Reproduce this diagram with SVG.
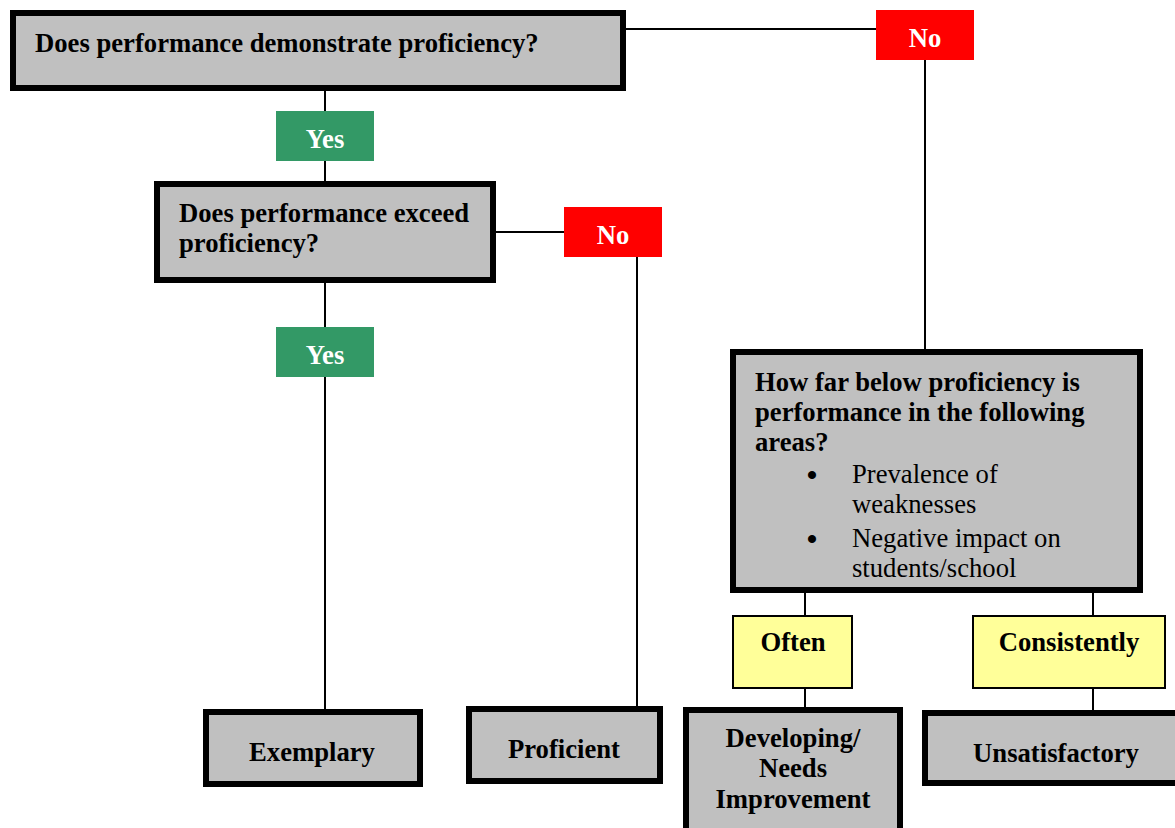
<svg xmlns="http://www.w3.org/2000/svg" width="1175" height="828" viewBox="0 0 1175 828">
<style>
.q{fill:#C0C0C0;stroke:#000;stroke-width:6}
.yes{fill:#339966}
.no{fill:#FF0000}
.y{fill:#FFFF99;stroke:#000;stroke-width:2}
text{font-family:"Liberation Serif","Times New Roman",serif;font-size:26.67px;fill:#000}
.b{font-weight:bold}
.w{fill:#fff;font-weight:bold;text-anchor:middle}
.c{text-anchor:middle}
.bul{font-size:30px;font-weight:bold;text-anchor:middle}
.conn line{stroke:#000;stroke-width:2}
</style>
<rect width="1175" height="828" fill="#fff"/>
<g class="conn" id="connectors">
<line x1="626" y1="29" x2="876" y2="29"/>
<line x1="925" y1="60" x2="925" y2="350"/>
<line x1="325" y1="90" x2="325" y2="111"/>
<line x1="325" y1="161" x2="325" y2="182"/>
<line x1="495" y1="232" x2="564" y2="232"/>
<line x1="637" y1="257" x2="637" y2="707"/>
<line x1="325" y1="282" x2="325" y2="327"/>
<line x1="325" y1="377" x2="325" y2="710"/>
<line x1="805" y1="592" x2="805" y2="616"/>
<line x1="1093" y1="592" x2="1093" y2="616"/>
<line x1="805" y1="688" x2="805" y2="708"/>
<line x1="1093" y1="688" x2="1093" y2="711"/>
</g>
<g id="q1">
<rect class="q" x="13" y="13" width="610" height="75"/>
<text class="b" x="35" y="52">Does performance demonstrate proficiency?</text>
</g>
<g id="no1">
<rect class="no" x="876" y="10" width="98" height="50"/>
<text class="w" x="925" y="47">No</text>
</g>
<g id="yes1">
<rect class="yes" x="276" y="111" width="98" height="50"/>
<text class="w" x="325" y="148">Yes</text>
</g>
<g id="q2">
<rect class="q" x="157" y="184" width="336" height="96"/>
<text class="b" x="179" y="222">Does performance exceed</text>
<text class="b" x="179" y="252">proficiency?</text>
</g>
<g id="no2">
<rect class="no" x="564" y="207" width="98" height="50"/>
<text class="w" x="613" y="244">No</text>
</g>
<g id="yes2">
<rect class="yes" x="276" y="327" width="98" height="50"/>
<text class="w" x="325" y="364">Yes</text>
</g>
<g id="q3">
<rect class="q" x="733" y="352" width="407" height="238"/>
<text class="b" x="755" y="391">How far below proficiency is</text>
<text class="b" x="755" y="421">performance in the following</text>
<text class="b" x="755" y="451">areas?</text>
<text class="bul" x="812" y="485">•</text>
<text x="852" y="483">Prevalence of</text>
<text x="852" y="513">weaknesses</text>
<text class="bul" x="812" y="549">•</text>
<text x="852" y="547">Negative impact on</text>
<text x="852" y="577">students/school</text>
</g>
<g id="often">
<rect class="y" x="733" y="616" width="119" height="72"/>
<text class="b c" x="793" y="651">Often</text>
</g>
<g id="consistently">
<rect class="y" x="973" y="616" width="192" height="72"/>
<text class="b c" x="1069" y="651">Consistently</text>
</g>
<g id="exemplary">
<rect class="q" x="206" y="712" width="214" height="72"/>
<text class="b c" x="312" y="761">Exemplary</text>
</g>
<g id="proficient">
<rect class="q" x="469" y="709" width="191" height="72"/>
<text class="b c" x="564" y="758">Proficient</text>
</g>
<g id="developing">
<rect class="q" x="686" y="710" width="214" height="130"/>
<text class="b c" x="793" y="747">Developing/</text>
<text class="b c" x="793" y="777">Needs</text>
<text class="b c" x="793" y="808">Improvement</text>
</g>
<g id="unsatisfactory">
<rect class="q" x="925" y="713" width="262" height="70"/>
<text class="b c" x="1056" y="762">Unsatisfactory</text>
</g>
</svg>
